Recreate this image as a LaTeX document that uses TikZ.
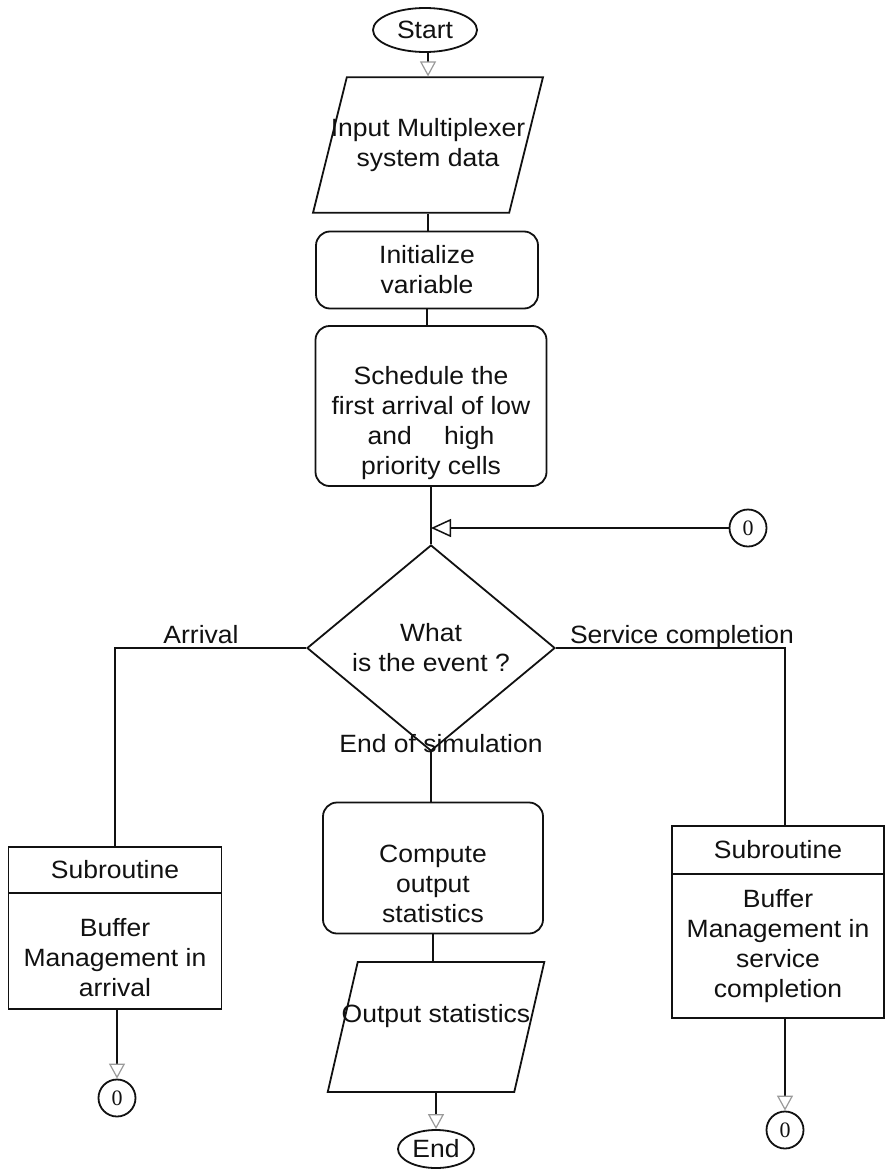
\documentclass[tikz,border=0pt]{standalone}
\usepackage{fontspec}
\setmainfont{Liberation Sans}[FakeStretch=1.06]
\newfontfamily\numfont{Liberation Serif}
\usepackage{tikz}
\usetikzlibrary{arrows.meta,positioning,shapes.geometric}
\definecolor{ink}{HTML}{111111}
\definecolor{faint}{HTML}{9A9A9A}

\begin{document}
\begin{tikzpicture}[x=1pt,y=-1pt,line width=1.8pt,
   flow/.style={draw=ink,text=ink,font=\fontsize{25}{30}\selectfont,align=center,inner sep=0pt,line width=1.8pt},
   term/.style={flow,ellipse},
   proc/.style={flow,rounded corners=14pt},
   sub/.style={flow,rectangle,outer sep=0pt},
   io/.style={flow,trapezium,trapezium stretches=true,inner xsep=-16pt},
   decide/.style={flow,diamond},
   conn/.style={flow,circle,minimum size=37pt,font=\numfont\fontsize{22}{24}\selectfont},
   lbl/.style={text=ink,font=\fontsize{25}{30}\selectfont,inner sep=0pt,anchor=base},
   faintarrow/.style={draw=ink,-{Triangle[open,length=15pt,width=16pt,color=faint,line width=1.2pt]}},
   looparrow/.style={draw=ink,-{Triangle[open,length=20pt,width=18pt,line width=1.5pt]}}]
  \useasboundingbox (0,0) rectangle (887,1172);
  \node[term,minimum width=104pt,minimum height=44pt] (start) at (425,30) {Start};
  \node[io,trapezium left angle=76,trapezium right angle=104,inner ysep=41pt] (inp) at (428,145) {Input Multiplexer\\system data};
  \node[proc,minimum width=222pt,minimum height=77pt] (init) at (427,270) {Initialize\\variable};
  \node[proc,minimum width=231pt,minimum height=160pt] (sched) at (431,406) {\rule{0pt}{53pt}Schedule the\\first arrival of low\\and \quad high\\priority cells};
  \node[conn] (loopC) at (748,528) {0};
  \node[decide,minimum width=248pt,minimum height=153pt] (dia) at (431,648) {What\\is the event ?};
  \node[lbl] (arrLbl) at (201,643) {Arrival};
  \node[lbl] (serLbl) at (682,643) {Service completion};
  \node[lbl] (endLbl) at (441,752) {End of simulation};
  \node[sub,minimum width=213pt,minimum height=116pt] (arrBody) at (115,951) {\rule{0pt}{32pt}Buffer\\Management in\\arrival};
  \node[sub,minimum width=213pt,minimum height=46pt,anchor=south] (arrHead) at (arrBody.north) {Subroutine};
  \node[conn] (arrC) at (117,1098) {0};
  \node[proc,minimum width=220pt,minimum height=131pt] (comp) at (433,868) {\rule{0pt}{49pt}Compute\\output\\statistics};
  \node[io,trapezium left angle=77,trapezium right angle=103,inner ysep=42pt,text height=18pt,text depth=28pt] (outp) at (436,1027) {Output statistics};
  \node[term,minimum width=76pt,minimum height=38pt] (end) at (436,1149) {End};
  \node[sub,minimum width=212pt,minimum height=144pt] (serBody) at (778,946) {Buffer\\Management in\\service\\completion};
  \node[sub,minimum width=212pt,minimum height=48pt,anchor=south] (serHead) at (serBody.north) {Subroutine};
  \node[conn] (serC) at (785,1130) {0};
  \coordinate (loopIn) at (sched.south |- loopC);
  \foreach \a/\b in {inp/init,init/sched,sched/dia,dia/comp,comp/outp}{
     \draw[ink] (\a.south) -- (\a.south |- \b.north);}
  \foreach \a/\b in {start/inp,outp/end,arrBody/arrC,serBody/serC}{
     \draw[faintarrow] (\b.north |- \a.south) -- (\b.north);}
  \draw[looparrow] (loopC) -- (loopIn);
  \draw[ink] (dia.west) -| (arrHead.north);
  \draw[ink] (dia.east) -| (serHead.north -| serC);
\end{tikzpicture}
\end{document}
